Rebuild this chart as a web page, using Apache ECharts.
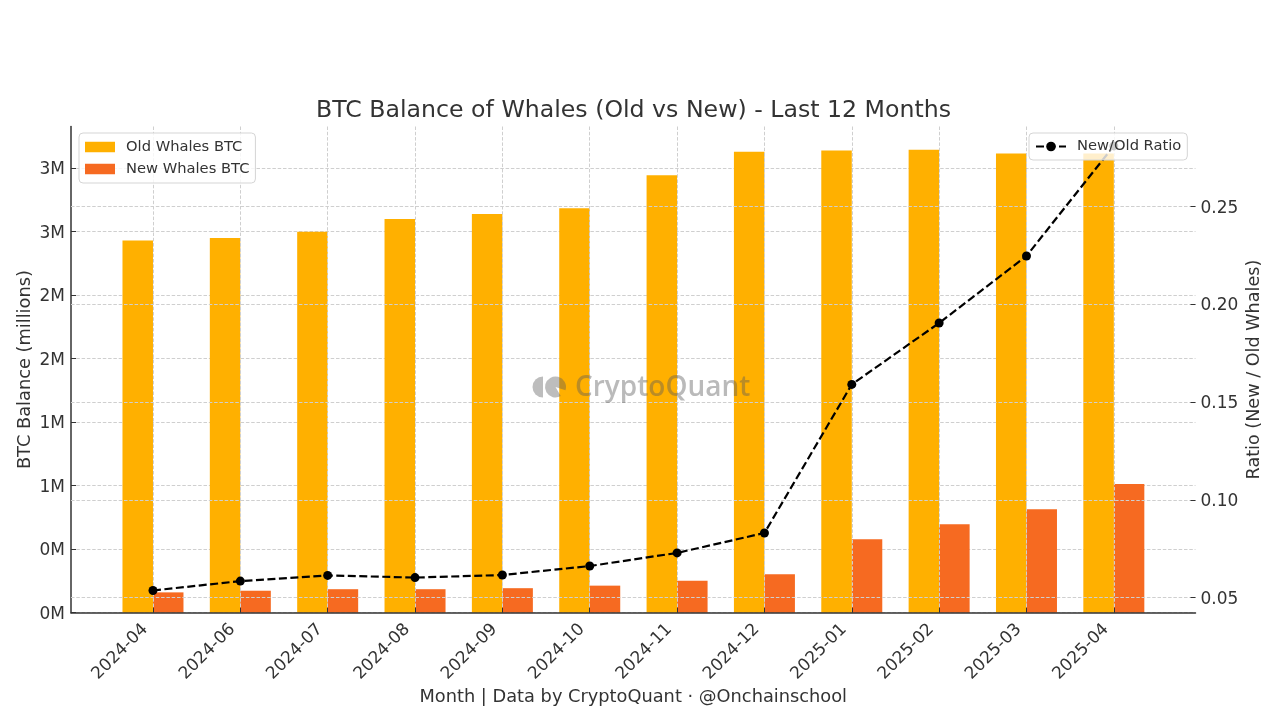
<!DOCTYPE html>
<html>
	<head>
		<meta charset="UTF-8">
		<title>BTC Balance of Whales</title>
		<style>
			html, body { margin: 0; padding: 0; background: #fff; }
			#chart { width: 1280px; height: 723px; }
		</style>
	</head>
	<body>
		<div id="chart"></div>
		<script src="https://cdn.jsdelivr.net/npm/echarts@6/dist/echarts.min.js"></script>
		<script>
			// values
			var months = ['2024-04', '2024-06', '2024-07', '2024-08', '2024-09', '2024-10', '2024-11', '2024-12', '2025-01', '2025-02', '2025-03', '2025-04'];
			var oldWhales = [2.93, 2.95, 3.0, 3.10, 3.14, 3.185, 3.445, 3.63, 3.64, 3.645, 3.615, 3.615];
			var newWhales = [0.16, 0.173, 0.185, 0.185, 0.193, 0.213, 0.252, 0.303, 0.579, 0.697, 0.815, 1.013];
			var ratio = [0.0537, 0.0585, 0.0614, 0.0603, 0.0616, 0.0662, 0.0729, 0.0831, 0.1591, 0.1905, 0.2248, 0.2811];
			var leftTicks = [0, 0.5, 1, 1.5, 2, 2.5, 3, 3.5];
			var leftTickLabels = ['0M', '0M', '1M', '1M', '2M', '2M', '3M', '3M'];
			var rightTicks = [0.05, 0.1, 0.15, 0.2, 0.25];

			var fontName = 'DejaVu Sans';
			var textColor = '#333333';
			var gridLine = { show: true, lineStyle: { color: '#cfcfcf', type: [3.5, 1.8], width: 1 } };
			var legendBox = {
				padding: [6, 6, 6, 6],
				itemGap: 6,
				itemWidth: 30,
				itemHeight: 10.5,
				backgroundColor: 'rgba(255,255,255,0.8)',
				borderColor: '#d5d5d5',
				borderWidth: 1,
				borderRadius: 4,
				z: 6,
				textStyle: { color: textColor, fontSize: 14.7, lineHeight: 16, padding: [0, 0, 0, 6], fontFamily: fontName }
			};

			var monthIdx = months.map(function(m, i) { return i; });
			var withIdx = function(list) {
				return list.map(function(v, i) { return [i, v]; });
			};

			var chart = echarts.init(document.getElementById('chart'));
			chart.setOption({
				backgroundColor: '#fff',
				animation: false,
				textStyle: { fontFamily: fontName },
				title: {
					text: 'BTC Balance of Whales (Old vs New) - Last 12 Months',
					left: 628.5,
					top: 93.5,
					textAlign: 'center',
					textStyle: { color: textColor, fontSize: 23.65, fontWeight: 'normal', fontFamily: fontName }
				},
				legend: [Object.assign({}, legendBox, {
					data: [
						{ name: 'Old Whales BTC', icon: 'rect' },
						{ name: 'New Whales BTC', icon: 'rect' }
					],
					orient: 'vertical',
					left: 79,
					top: 133
				}), Object.assign({}, legendBox, {
					data: ['New/Old Ratio'],
					itemHeight: 12,
					padding: [5.5, 6, 5.5, 6],
					left: 1029,
					top: 133
				})],
				grid: { left: 71, right: 84.5, top: 126.5, bottom: 110.3 },
				xAxis: {
					type: 'value',
					min: -0.9385,
					max: 11.935,
					name: 'Month | Data by CryptoQuant \u00b7 @Onchainschool',
					nameLocation: 'middle',
					nameGap: 76,
					nameMoveOverlap: false,
					nameTextStyle: { color: textColor, fontSize: 17.8, fontFamily: fontName },
					axisLine: { show: true, onZero: false, lineStyle: { color: '#333', width: 1.5 } },
					axisTick: { show: true, inside: true, length: 5, customValues: monthIdx, lineStyle: { color: '#333', width: 1 } },
					axisLabel: {
						customValues: monthIdx,
						rotate: 45,
						margin: 6.2,
						padding: [0, 11, 0, 0],
						color: textColor,
						fontSize: 17,
						fontFamily: fontName,
						formatter: function(v) { return months[v]; }
					},
					splitLine: gridLine,
					z: 3
				},
				yAxis: [{
					type: 'value',
					min: 0,
					max: 3.828,
					name: 'BTC Balance (millions)',
					nameLocation: 'middle',
					nameGap: 37,
					nameMoveOverlap: false,
					nameTextStyle: { color: textColor, fontSize: 17.8, fontFamily: fontName },
					axisLine: { show: true, onZero: false, lineStyle: { color: '#333', width: 1.5 } },
					axisTick: { show: true, inside: true, length: 5, customValues: leftTicks, lineStyle: { color: '#333', width: 1 } },
					axisLabel: {
						customValues: leftTicks,
						margin: 6,
						verticalAlign: 'top',
						lineHeight: 3,
						color: textColor,
						fontSize: 17,
						fontFamily: fontName,
						formatter: function(v) { return leftTickLabels[leftTicks.indexOf(v)]; }
					},
					splitLine: gridLine,
					z: 0
				}, {
					type: 'value',
					position: 'right',
					min: 0.04233,
					max: 0.29102,
					name: 'Ratio (New / Old Whales)',
					nameLocation: 'middle',
					nameRotate: 90,
					nameGap: 50,
					nameMoveOverlap: false,
					nameTextStyle: { color: textColor, fontSize: 17.6, fontFamily: fontName },
					axisLine: { show: false, onZero: false },
					axisTick: { show: true, inside: true, length: 5, customValues: rightTicks, lineStyle: { color: '#333', width: 1 } },
					axisLabel: {
						customValues: rightTicks,
						margin: 5,
						verticalAlign: 'top',
						lineHeight: 3,
						color: textColor,
						fontSize: 17,
						fontFamily: fontName,
						formatter: function(v) { return v.toFixed(2); }
					},
					splitLine: gridLine,
					z: 3
				}],
				series: [{
					name: 'Old Whales BTC',
					type: 'bar',
					barWidth: 30.5,
					barGap: 0,
					z: 2,
					itemStyle: { color: '#FFB000' },
					data: withIdx(oldWhales)
				}, {
					name: 'New Whales BTC',
					type: 'bar',
					barWidth: 30.5,
					barGap: 0,
					z: 2,
					itemStyle: { color: '#F66A21' },
					data: withIdx(newWhales)
				}, {
					name: 'New/Old Ratio',
					type: 'line',
					yAxisIndex: 1,
					z: 4,
					symbol: 'circle',
					symbolSize: 9,
					clip: false,
					itemStyle: { color: '#000' },
					lineStyle: { color: '#000', width: 2.2, type: [8, 3.5] },
					data: withIdx(ratio)
				}],
				// watermark
				graphic: [{
					type: 'sector',
					z: 5,
					shape: { cx: 543, cy: 387, r: 10.5, r0: 0, startAngle: Math.PI / 2, endAngle: Math.PI * 1.5 },
					style: { fill: 'rgba(90,90,90,0.4)' }
				}, {
					type: 'sector',
					z: 5,
					shape: { cx: 555.5, cy: 387, r: 10.5, r0: 0, startAngle: Math.PI / 3, endAngle: Math.PI * 2.1 },
					style: { fill: 'rgba(90,90,90,0.4)' }
				}, {
					type: 'text',
					z: 5,
					x: 575,
					y: 374,
					style: { text: 'CryptoQuant', font: '600 28px "Open Sans"', fill: 'rgba(90,90,90,0.42)' }
				}]
			});
			window.addEventListener('resize', function() {
				chart.resize();
			});
		</script>
	</body>
</html>
